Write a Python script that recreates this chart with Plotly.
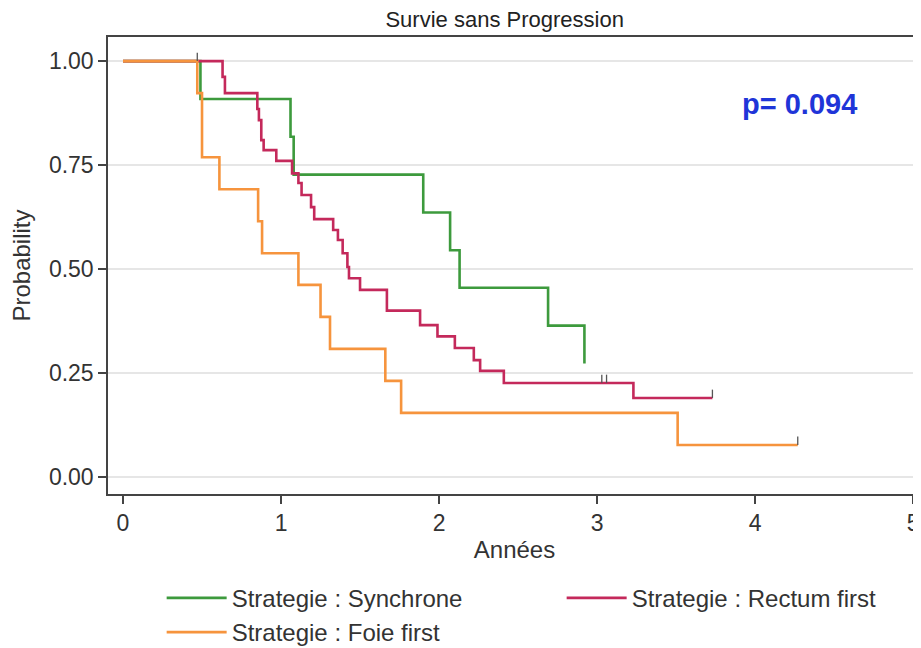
import plotly.graph_objects as go

# ---- data ----
title_text = "Survie sans Progression"
group_names = ["Strategie : Synchrone", "Strategie : Rectum first", "Strategie : Foie first"]
group_colors = ["#3d9a3d", "#c4295b", "#f6943d"]

sync_time = [0, 0.49, 1.06, 1.08, 1.90, 2.07, 2.13, 2.69, 2.92]
sync_surv = [1.0, 0.909, 0.818, 0.727, 0.636, 0.545, 0.455, 0.364, 0.273]

rect_time = [0, 0.63, 0.645, 0.85, 0.86, 0.875, 0.89, 0.97, 1.07, 1.11, 1.13, 1.19, 1.21,
             1.33, 1.36, 1.39, 1.42, 1.43, 1.50, 1.67, 1.88, 1.99, 2.10, 2.22, 2.26, 2.41,
             3.23, 3.73]
rect_surv = [1.0, 0.962, 0.923, 0.885, 0.858, 0.81, 0.786, 0.76, 0.73, 0.707, 0.678, 0.649, 0.62,
             0.594, 0.57, 0.538, 0.505, 0.478, 0.45, 0.40, 0.365, 0.338, 0.31, 0.281, 0.255, 0.226,
             0.19, 0.19]

foie_time = [0, 0.47, 0.50, 0.61, 0.855, 0.88, 1.11, 1.25, 1.31, 1.66, 1.76, 3.51, 4.27]
foie_surv = [1.0, 0.923, 0.769, 0.692, 0.615, 0.538, 0.462, 0.385, 0.308, 0.231, 0.154, 0.077, 0.077]

# censor marks (time, survival level)
cens_time = [0.47, 3.03, 3.06, 3.73, 4.27]
cens_surv = [1.0, 0.226, 0.226, 0.19, 0.077]

y_ticks = [0, 0.25, 0.5, 0.75, 1.0]
y_ticklabels = ["0.00", "0.25", "0.50", "0.75", "1.00"]
x_ticks = [0, 1, 2, 3, 4, 5]
p_text = "p= 0.094"

FONT = "Liberation Sans, Arial, sans-serif"

fig = go.Figure()
series = [(sync_time, sync_surv), (rect_time, rect_surv), (foie_time, foie_surv)]
legend_ids = ["legend", "legend2", "legend"]
for (t, s), name, col, lg in zip(series, group_names, group_colors, legend_ids):
    fig.add_trace(go.Scatter(x=t, y=s, mode="lines", line=dict(shape="hv", color=col, width=2.6),
                             name=name, legend=lg))

fig.add_trace(go.Scatter(
    x=cens_time, y=cens_surv, mode="markers", marker=dict(size=1, color="rgba(0,0,0,0)"),
    error_y=dict(type="data", symmetric=False, array=[0.02] * len(cens_time),
                 arrayminus=[0] * len(cens_time), width=0, thickness=1.3, color="#555"),
    showlegend=False, hoverinfo="skip"))

fig.add_annotation(x=4.28, y=0.897, xref="x", yref="y", text="<b>" + p_text + "</b>",
                   showarrow=False, font=dict(family=FONT, size=29, color="#1f35d8"))

leg_font = dict(family=FONT, size=24, color="#333")
fig.update_layout(
    width=913, height=640,
    margin=dict(l=100, r=0, t=29, b=154, autoexpand=False),
    paper_bgcolor="white", plot_bgcolor="white",
    font=dict(family=FONT, size=23, color="#333"),
    title=dict(text=title_text, x=0.544, xref="container", xanchor="center", y=0.982, yanchor="middle",
               font=dict(family=FONT, size=22, color="#222")),
    legend=dict(orientation="v", x=0.066, xanchor="left", y=-0.179, yanchor="top", itemwidth=60,
                traceorder="normal", font=leg_font, tracegroupgap=0, bgcolor="rgba(0,0,0,0)"),
    legend2=dict(orientation="v", x=0.558, xanchor="left", y=-0.179, yanchor="top", itemwidth=60,
                 font=leg_font, bgcolor="rgba(0,0,0,0)"),
    showlegend=True,
)
fig.update_xaxes(range=[-0.095, 5.05], tickvals=x_ticks, ticks="outside", ticklen=8, tickwidth=1.5,
                 tickcolor="#444", showline=True, linecolor="#444", linewidth=1.5, mirror=True,
                 showgrid=False, zeroline=False, automargin=False,
                 title=dict(text="Années", standoff=6, font=dict(family=FONT, size=24, color="#333")),
                 tickfont=dict(family=FONT, size=23, color="#333"))
fig.update_yaxes(range=[-0.041, 1.058], tickvals=y_ticks, ticktext=y_ticklabels, ticks="outside",
                 ticklen=8, tickwidth=1.5, tickcolor="#444", showline=True, linecolor="#444",
                 linewidth=1.5, showgrid=True, gridcolor="#e6e6e6", gridwidth=1.5, zeroline=False,
                 automargin=False,
                 title=dict(text="Probability", standoff=12, font=dict(family=FONT, size=24, color="#333")),
                 tickfont=dict(family=FONT, size=23, color="#333"))

fig.write_html("out.html")
